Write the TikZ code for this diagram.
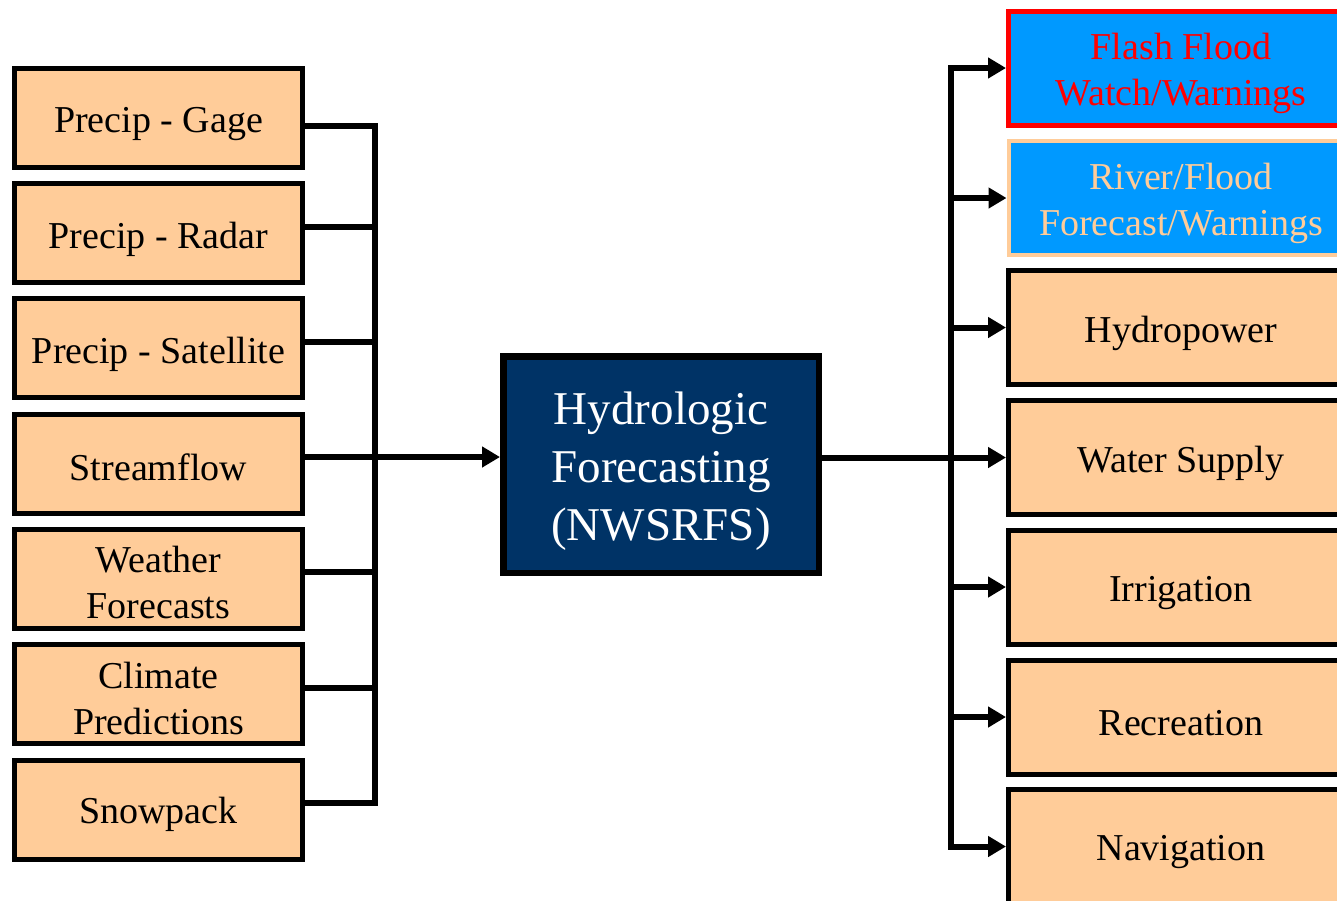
\documentclass[tikz,border=0pt]{standalone}
\usepackage{fontspec}
\setmainfont{Liberation Serif}
\usetikzlibrary{arrows.meta}
\definecolor{peach}{HTML}{FFCC99}
\definecolor{navy}{HTML}{003366}
\definecolor{skyb}{HTML}{0099FF}
\tikzset{
  inbox/.style={draw=black, line width=5pt, fill=peach, minimum width=288pt, minimum height=99pt, inner sep=0pt},
  outbox/.style={draw=black, line width=5pt, fill=peach, minimum width=345pt, minimum height=114pt, inner sep=0pt},
  centerbox/.style={draw=black, line width=6.5pt, fill=navy, minimum width=315.5pt, minimum height=216.5pt, inner sep=0pt},
  txt/.style={inner sep=0pt, align=center, font=\fontsize{38}{46}\selectfont},
  bigtxt/.style={inner sep=0pt, align=center, text=white, font=\fontsize{47}{58}\selectfont},
  wire/.style={line width=6pt, line join=miter, draw=black},
  arr/.style={wire, -{Triangle[length=18pt,width=20pt]}}
}
\begin{document}
\begin{tikzpicture}[x=1pt,y=-1pt]
\useasboundingbox (0,0) rectangle (1337,900);
\clip (0,0) rectangle (1337,900);
% left inputs
\node[inbox] (g1) at (158.5,118) {};
\node[inbox] (g2) at (158.5,233) {};
\node[inbox] (g3) at (158.5,348) {};
\node[inbox] (g4) at (158.5,463.5) {};
\node[inbox] (g5) at (158.5,578.5) {};
\node[inbox] (g6) at (158.5,694) {};
\node[inbox] (g7) at (158.5,809.5) {};
\node[txt] at ([yshift=-6pt]g1.center) {Precip - Gage};
\node[txt] at ([yshift=-6pt]g2.center) {Precip - Radar};
\node[txt] at ([yshift=-6pt]g3.center) {Precip - Satellite};
\node[txt] at ([yshift=-4pt]g4.center) {Streamflow};
\node[txt] at ([yshift=-4pt]g5.center) {Weather\\Forecasts};
\node[txt] at ([yshift=-4pt]g6.center) {Climate\\Predictions};
\node[txt] at ([yshift=-5pt]g7.center) {Snowpack};
% center
\node[centerbox] (c) at (661,464.5) {};
\node[bigtxt] at ([yshift=-7pt]c.center) {Hydrologic\\Forecasting\\(NWSRFS)};
% right outputs
\node[outbox, fill=skyb, draw=red] (r1) at (1181,68) {};
\node[outbox, fill=skyb, draw=peach, line width=4pt] (r2) at (1181,198) {};
\node[outbox] (r3) at (1181,327.5) {};
\node[outbox] (r4) at (1181,457.5) {};
\node[outbox] (r5) at (1181,587) {};
\node[outbox] (r6) at (1181,717) {};
\node[outbox] (r7) at (1181,846.5) {};
\node[txt, text=red] at ([yshift=-5pt]r1.center) {Flash Flood\\Watch/Warnings};
\node[txt, text=peach] at ([yshift=-5pt]r2.center) {River/Flood\\Forecast/Warnings};
\node[txt] at ([yshift=-6pt]r3.center) {Hydropower};
\node[txt] at ([yshift=-6pt]r4.center) {Water Supply};
\node[txt] at ([yshift=-6pt]r5.center) {Irrigation};
\node[txt] at ([yshift=-6pt]r6.center) {Recreation};
\node[txt] at ([yshift=-6pt]r7.center) {Navigation};
% left bus coordinates
\coordinate (b1) at (375,126);
\coordinate (b2) at (375,227);
\coordinate (b3) at (375,342);
\coordinate (b4) at (375,457);
\coordinate (b5) at (375,572);
\coordinate (b6) at (375,688);
\coordinate (b7) at (375,803);
\draw[wire] (g1.east |- b1) -- (b1) -- (b7) -- (g7.east |- b7);
\draw[wire] (g2.east |- b2) -- (b2);
\draw[wire] (g3.east |- b3) -- (b3);
\draw[wire] (g5.east |- b5) -- (b5);
\draw[wire] (g6.east |- b6) -- (b6);
\draw[wire] (g4.east |- b4) -- (b4);
\draw[arr] (b4) -- (b4 -| c.west);
% right bus
\coordinate (s1) at (951,68);
\coordinate (s2) at (951,198);
\coordinate (s3) at (951,327.5);
\coordinate (s4) at (951,457.5);
\coordinate (s5) at (951,587);
\coordinate (s6) at (951,717);
\coordinate (s7) at (951,846.5);
\draw[wire] (r1.west) ++(-20,0) -- (s1) -- (s7) -- ++(20,0);
\draw[arr] (s1) -- (r1.west);
\draw[arr] (s2) -- (r2.west);
\draw[arr] (s3) -- (r3.west);
\draw[arr] (c.east |- s4) -- (r4.west);
\draw[arr] (s5) -- (r5.west);
\draw[arr] (s6) -- (r6.west);
\draw[arr] (s7) -- (r7.west);
\end{tikzpicture}
\end{document}
